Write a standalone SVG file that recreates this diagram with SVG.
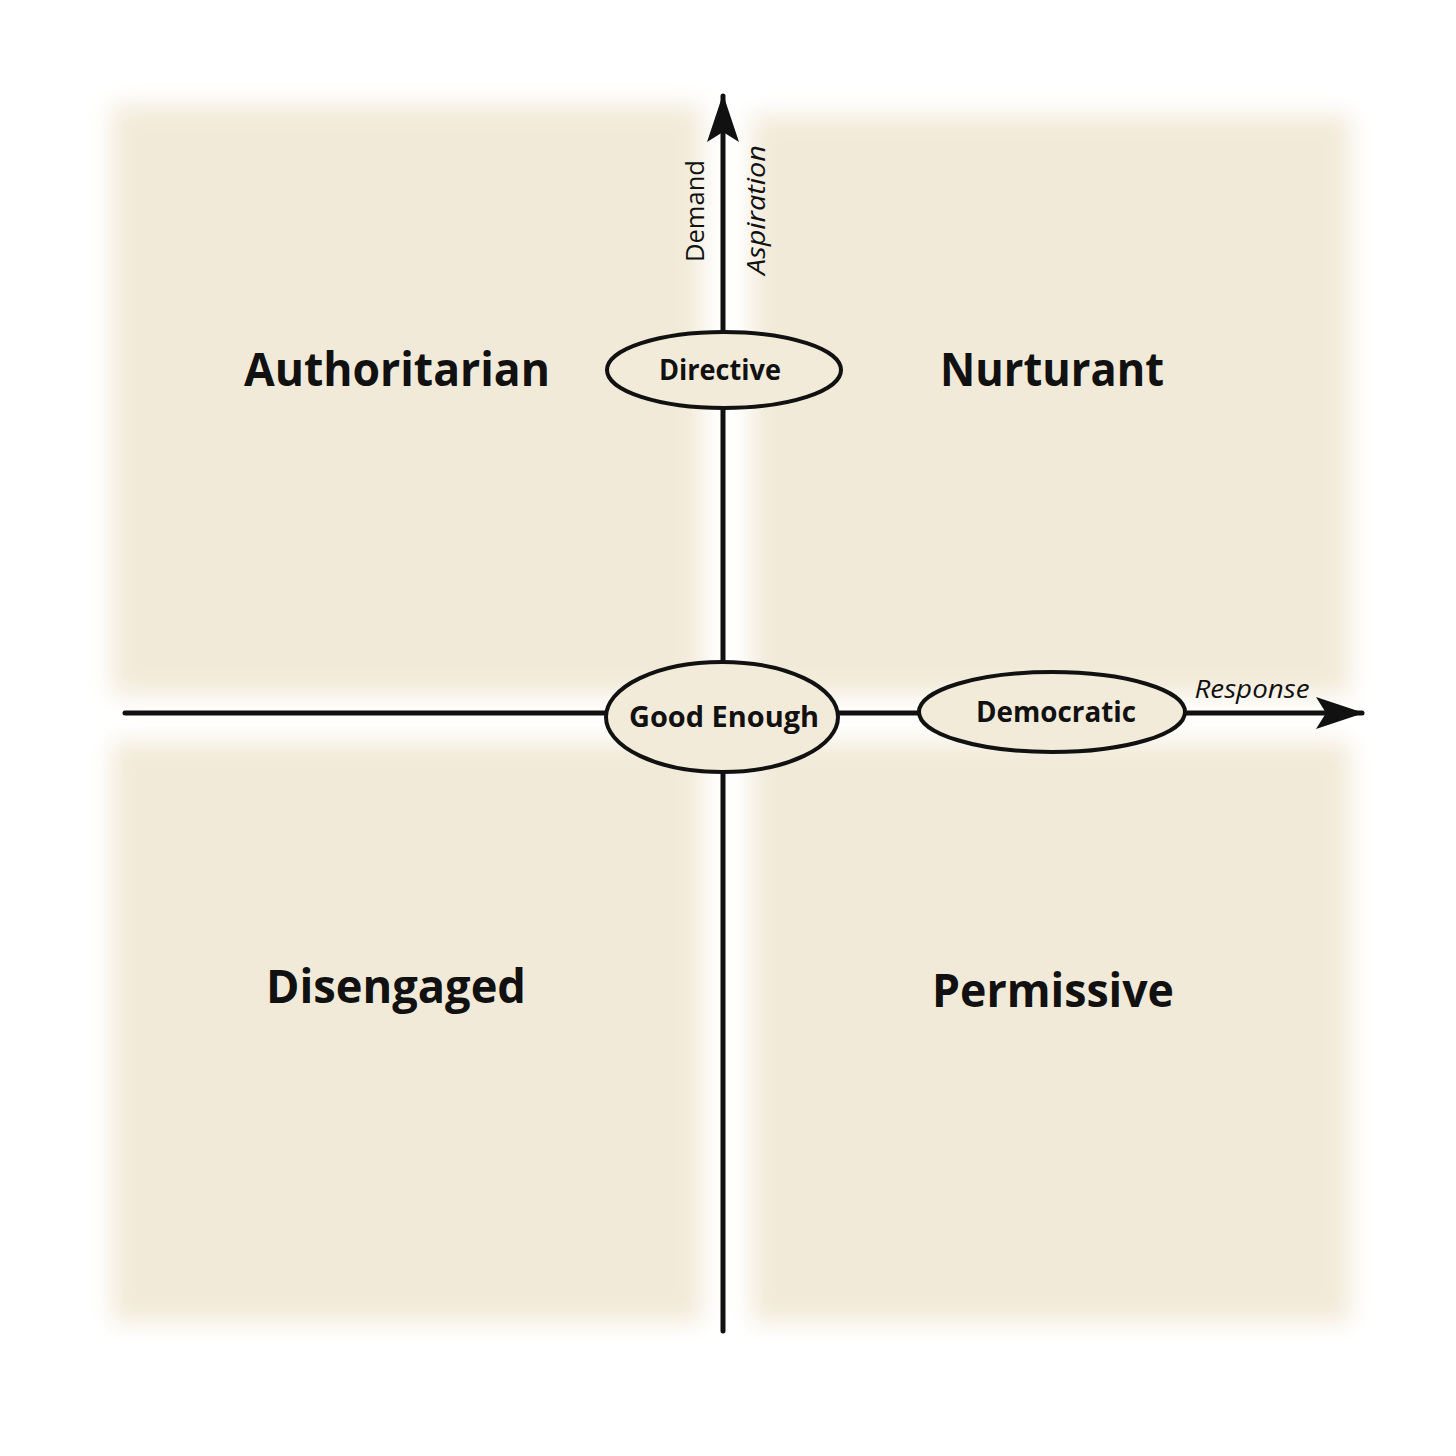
<svg xmlns="http://www.w3.org/2000/svg" width="1456" height="1456" viewBox="0 0 1456 1456">
<defs>
<filter id="soft" x="-10%" y="-10%" width="120%" height="120%"><feGaussianBlur stdDeviation="12"/></filter>
<marker id="arr" viewBox="0 0 48 32" refX="46" refY="16" markerWidth="48" markerHeight="32" markerUnits="userSpaceOnUse" orient="auto">
<path d="M0,0 L48,16 L0,32 L10,16 Z" fill="#111"/>
</marker>
</defs>
<style>
.quad{fill:#F2EAD8;filter:url(#soft)}
.axis{stroke:#111;stroke-width:5;fill:none;stroke-linecap:round}
.ell{fill:#F3EBDA;stroke:#111;stroke-width:4}
.big{font-family:"Open Sans","Noto Sans",sans-serif;font-weight:bold;font-size:47px;fill:#111;text-anchor:middle}
.node{font-family:"Open Sans","Noto Sans",sans-serif;font-weight:bold;font-size:29px;fill:#111;text-anchor:middle}
.lab{font-family:"Open Sans","Noto Sans",sans-serif;font-size:26px;fill:#111;text-anchor:middle}
</style>
<rect width="1456" height="1456" fill="#fff"/>
<g id="quadrants">
<rect class="quad" x="112" y="105" width="590" height="590"/>
<rect class="quad" x="752" y="115" width="598" height="580"/>
<rect class="quad" x="112" y="742" width="590" height="580"/>
<rect class="quad" x="752" y="742" width="598" height="580"/>
</g>
<g id="connectors">
<line class="axis" x1="723" y1="1331" x2="723" y2="96" marker-end="url(#arr)"/>
<line class="axis" x1="125" y1="713" x2="1362" y2="713" marker-end="url(#arr)"/>
</g>
<g id="axis-labels">
<text class="lab" transform="translate(704,211) rotate(-90)" textLength="102" lengthAdjust="spacingAndGlyphs">Demand</text>
<text class="lab" font-style="italic" transform="translate(765,210) rotate(-90)" textLength="130" lengthAdjust="spacingAndGlyphs">Aspiration</text>
<text class="lab" font-style="italic" x="1252" y="698" textLength="115" lengthAdjust="spacingAndGlyphs">Response</text>
</g>
<g id="node-directive">
<ellipse class="ell" cx="724" cy="370" rx="117" ry="38"/>
<text class="node" x="720" y="380" textLength="122" lengthAdjust="spacingAndGlyphs">Directive</text>
</g>
<g id="node-good-enough">
<ellipse class="ell" cx="722" cy="717" rx="116" ry="55"/>
<text class="node" x="724" y="727" textLength="190" lengthAdjust="spacingAndGlyphs">Good Enough</text>
</g>
<g id="node-democratic">
<ellipse class="ell" cx="1052" cy="712" rx="133" ry="40"/>
<text class="node" x="1056" y="722" textLength="160" lengthAdjust="spacingAndGlyphs">Democratic</text>
</g>
<g id="quadrant-labels">
<text class="big" x="397" y="386" textLength="306" lengthAdjust="spacingAndGlyphs">Authoritarian</text>
<text class="big" x="1052" y="386" textLength="224" lengthAdjust="spacingAndGlyphs">Nurturant</text>
<text class="big" x="396" y="1003" textLength="260" lengthAdjust="spacingAndGlyphs">Disengaged</text>
<text class="big" x="1053" y="1007" textLength="242" lengthAdjust="spacingAndGlyphs">Permissive</text>
</g>
</svg>
